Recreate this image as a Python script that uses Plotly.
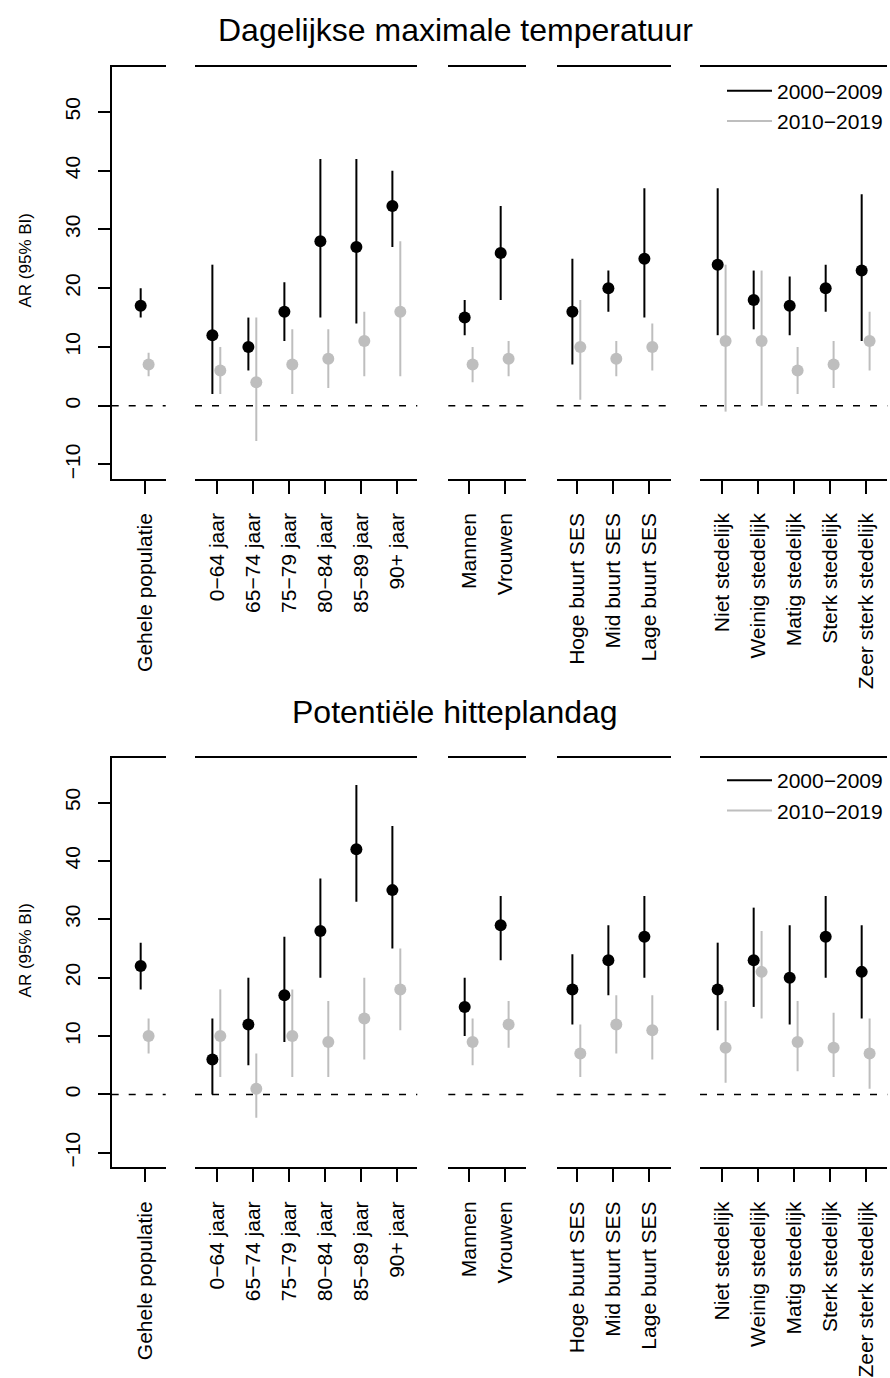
import plotly.graph_objects as go

# ---------------- data ----------------
group_labels = [
    ["Gehele populatie"],
    ["0−64 jaar", "65−74 jaar", "75−79 jaar", "80−84 jaar", "85−89 jaar", "90+ jaar"],
    ["Mannen", "Vrouwen"],
    ["Hoge buurt SES", "Mid buurt SES", "Lage buurt SES"],
    ["Niet stedelijk", "Weinig stedelijk", "Matig stedelijk", "Sterk stedelijk", "Zeer sterk stedelijk"],
]
panel_titles = ["Dagelijkse maximale temperatuur", "Potentiële hitteplandag"]
series_names = ["2000−2009", "2010−2019"]
y_ticks = [-10, 0, 10, 20, 30, 40, 50]

# Panel 1: Dagelijkse maximale temperatuur
temp_est_2000 = [17, 12, 10, 16, 28, 27, 34, 15, 26, 16, 20, 25, 24, 18, 17, 20, 23]
temp_lo_2000 = [15, 2, 6, 11, 15, 14, 27, 12, 18, 7, 16, 15, 12, 13, 12, 16, 11]
temp_hi_2000 = [20, 24, 15, 21, 42, 42, 40, 18, 34, 25, 23, 37, 37, 23, 22, 24, 36]
temp_est_2010 = [7, 6, 4, 7, 8, 11, 16, 7, 8, 10, 8, 10, 11, 11, 6, 7, 11]
temp_lo_2010 = [5, 2, -6, 2, 3, 5, 5, 4, 5, 1, 5, 6, -1, 0, 2, 3, 6]
temp_hi_2010 = [9, 10, 15, 13, 13, 16, 28, 10, 11, 18, 11, 14, 24, 23, 10, 11, 16]

# Panel 2: Potentiële hitteplandag
heat_est_2000 = [22, 6, 12, 17, 28, 42, 35, 15, 29, 18, 23, 27, 18, 23, 20, 27, 21]
heat_lo_2000 = [18, 0, 5, 9, 20, 33, 25, 10, 23, 12, 17, 20, 11, 15, 12, 20, 13]
heat_hi_2000 = [26, 13, 20, 27, 37, 53, 46, 20, 34, 24, 29, 34, 26, 32, 29, 34, 29]
heat_est_2010 = [10, 10, 1, 10, 9, 13, 18, 9, 12, 7, 12, 11, 8, 21, 9, 8, 7]
heat_lo_2010 = [7, 3, -4, 3, 3, 6, 11, 5, 8, 3, 7, 6, 2, 13, 4, 3, 1]
heat_hi_2010 = [13, 18, 7, 18, 16, 20, 25, 13, 16, 12, 17, 17, 16, 28, 16, 14, 13]

panels = [
    [(temp_est_2000, temp_lo_2000, temp_hi_2000), (temp_est_2010, temp_lo_2010, temp_hi_2010)],
    [(heat_est_2000, heat_lo_2000, heat_hi_2000), (heat_est_2010, heat_lo_2010, heat_hi_2010)],
]

# ---------------- styling / geometry ----------------
W, H = 890, 1378
FONT = "Liberation Sans, Arial, Helvetica, sans-serif"
COLORS = ["#000000", "#BEBEBE"]
OFFSETS = [-0.12, 0.10]
LW = 1.6
STEP = 36.0
# (left px, right px, first tick px) per group
group_px = [(111.7, 165.7, 145.0), (195.0, 417.3, 216.7), (448.3, 525.7, 469.0),
            (556.7, 670.7, 576.7), (700.0, 887.3, 722.0)]
# (top px, bottom px) per panel
panel_px = [(67.3, 481.7), (762.3, 1174.0)]
YRANGE = [-12.45, 57.65]
title_px = [(455, 30), (455, 716)]
ytitle_px = [(25, 262), (25, 956)]
legend_px = [(722, 71), (722, 764.5)]


def px2x(p):
    return p / W


def px2y(p):
    return 1 - p / H


fig = go.Figure()
layout = dict(
    width=W, height=H,
    margin=dict(l=0, r=0, t=0, b=0, pad=0),
    paper_bgcolor="white", plot_bgcolor="white",
    font=dict(family=FONT, size=21, color="black"),
    showlegend=True,
)
shapes, annotations = [], []

axis_no = 0
for p, series in enumerate(panels):
    ytop, ybot = panel_px[p]
    yname = "y" if p == 0 else "y2"
    ykey = "yaxis" if p == 0 else "yaxis2"
    first_x = None
    start = 0
    for g, labels in enumerate(group_labels):
        axis_no += 1
        xname = "x" if axis_no == 1 else f"x{axis_no}"
        xkey = "xaxis" if axis_no == 1 else f"xaxis{axis_no}"
        if first_x is None:
            first_x = xname
        n = len(labels)
        L, R, T1 = group_px[g]
        xr = [1 - (T1 - L) / STEP, 1 + (R - T1) / STEP]
        layout[xkey] = dict(
            domain=[px2x(L), px2x(R)], range=xr, anchor=yname,
            showline=True, mirror=True, linecolor="black", linewidth=LW,
            ticks="outside", ticklen=13, tickwidth=LW, tickcolor="black",
            tickvals=list(range(1, n + 1)), ticktext=labels, tickangle=-90,
            ticklabelstandoff=11,
            tickfont=dict(size=21, family=FONT, color="black"),
            showgrid=False, zeroline=False, fixedrange=True,
        )
        for s, (est, lo, hi) in enumerate(series):
            e = est[start:start + n]
            l = lo[start:start + n]
            h = hi[start:start + n]
            fig.add_trace(go.Scatter(
                x=[i + 1 + OFFSETS[s] for i in range(n)], y=e,
                mode="markers", xaxis=xname, yaxis=yname,
                marker=dict(color=COLORS[s], size=12, line=dict(width=0)),
                error_y=dict(type="data", symmetric=False,
                             array=[hv - ev for hv, ev in zip(h, e)],
                             arrayminus=[ev - lv for ev, lv in zip(e, l)],
                             color=COLORS[s], thickness=2, width=0),
                showlegend=False, hoverinfo="skip",
            ))
        shapes.append(dict(type="line", xref=f"{xname} domain", yref=yname,
                           x0=0, x1=1, y0=0, y1=0, layer="below",
                           line=dict(color="black", width=1.5, dash="7px,10px")))
        start += n

    layout[ykey] = dict(
        domain=[px2y(ybot), px2y(ytop)], range=YRANGE, anchor=first_x,
        showline=True, linecolor="black", linewidth=LW,
        ticks="outside", ticklen=12, tickwidth=LW, tickcolor="black",
        tickvals=y_ticks, tickangle=-90, ticklabelstandoff=10,
        tickfont=dict(size=21, family=FONT, color="black"),
        showgrid=False, zeroline=False, fixedrange=True,
    )

    # legend entries (line only)
    legname = "legend" if p == 0 else "legend2"
    for s in range(2):
        fig.add_trace(go.Scatter(
            x=[None], y=[None], mode="lines", xaxis=first_x, yaxis=yname,
            line=dict(color=COLORS[s], width=2), name=series_names[s],
            legend=legname, showlegend=True,
        ))
    lx, ly = legend_px[p]
    layout[legname] = dict(
        x=px2x(lx), y=px2y(ly), xanchor="left", yanchor="top",
        bgcolor="rgba(0,0,0,0)", borderwidth=0, itemwidth=45,
        font=dict(size=21, family=FONT, color="black"), tracegroupgap=0,
    )

    tx, ty = title_px[p]
    annotations.append(dict(text=panel_titles[p], xref="paper", yref="paper",
                            x=px2x(tx), y=px2y(ty), xanchor="center", yanchor="middle",
                            showarrow=False, font=dict(size=32, family=FONT, color="black")))
    yx, yy = ytitle_px[p]
    annotations.append(dict(text="AR (95% BI)", xref="paper", yref="paper",
                            x=px2x(yx), y=px2y(yy), xanchor="center", yanchor="middle",
                            textangle=-90, showarrow=False,
                            font=dict(size=17, family=FONT, color="black")))

layout["shapes"] = shapes
layout["annotations"] = annotations
fig.update_layout(**layout)

fig.write_html("out.html", post_script="document.body.style.margin='0';",
               config={"displayModeBar": False})
